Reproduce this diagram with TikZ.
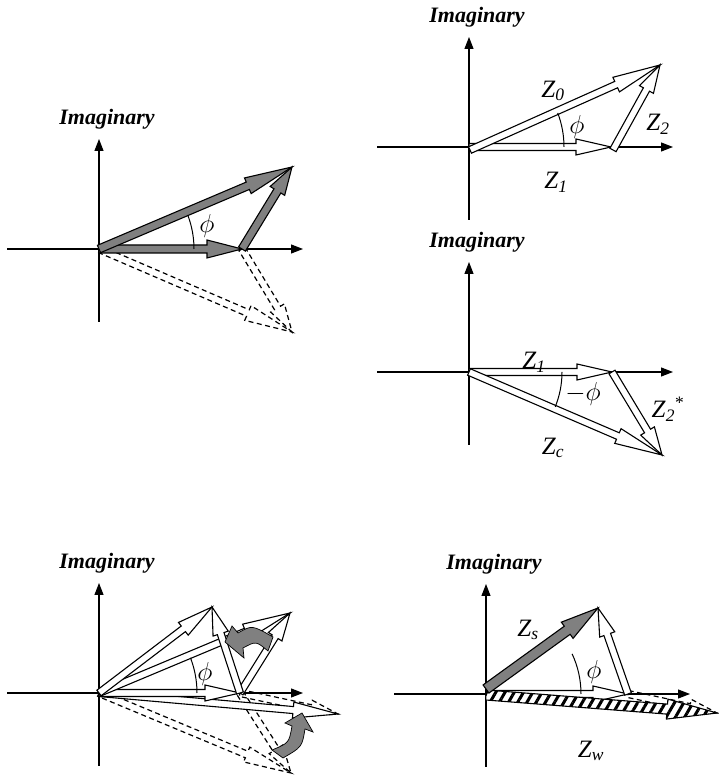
\documentclass[tikz,border=0pt]{standalone}
\usepackage{fix-cm}
\usepackage{fontspec}
\setmainfont{Liberation Serif}
\usetikzlibrary{calc,arrows.meta,patterns.meta}
\definecolor{arrgray}{gray}{0.5}

\tikzset{
  axis/.style={line width=1.1pt,-{Triangle[length=12pt,width=9pt]}},
  hollow/.style={draw,line width=1.1pt,fill=white,line join=miter},
  grayarr/.style={draw,line width=1.1pt,fill=arrgray},
  dasharr/.style={draw,line width=1.2pt,dash pattern=on 5pt off 3.5pt},
  hatcharr/.style={draw,line width=1.1pt,preaction={fill=white},
    pattern={Lines[angle=60,distance=8pt,line width=3pt]}},
  turnarr/.style={draw,line width=0.7pt,fill=arrgray},
  angarc/.style={line width=1pt},
  imag/.style={font=\fontsize{22}{24}\selectfont\bfseries\itshape},
  lbl/.style={font=\fontsize{25}{27}\selectfont,inner sep=1pt},
  phl/.style={font=\fontsize{26}{28}\selectfont,inner sep=1pt},
}

% block arrow: [style]{from}{to}{shaft half width}{head half width}{head length}
\newcommand{\blockarrow}[6][hollow]{%
  \path[#1] let \p1=($(#3)-(#2)$), \n1={atan2(\y1,\x1)}, \n2={veclen(\x1,\y1)} in
    ($(#2)+(\n1+90:#4pt)$) -- ($(#2)+(\n1:\n2-#6pt)+(\n1+90:#4pt)$)
    -- ($(#2)+(\n1:\n2-#6pt)+(\n1+90:#5pt)$) -- (#3)
    -- ($(#2)+(\n1:\n2-#6pt)+(\n1-90:#5pt)$) -- ($(#2)+(\n1:\n2-#6pt)+(\n1-90:#4pt)$)
    -- ($(#2)+(\n1-90:#4pt)$) -- cycle;}

% complex plane: {origin name}{x}{y}
\newcommand{\cplane}[3]{%
  \coordinate (#1) at (#2,#3);
  \coordinate (#1l) at ($(#1)+(-92,0)$);
  \coordinate (#1r) at ($(#1)+(204,0)$);
  \coordinate (#1b) at ($(#1)+(0,-73)$);
  \coordinate (#1t) at ($(#1)+(0,110)$);
  \draw[axis] (#1l) -- (#1r);
  \draw[axis] (#1b) -- (#1t);
  \node[imag] (#1lab) at ($(#1t)+(8,20)$) {Imaginary};}

\newcommand{\zlab}[1]{\textit{Z}\textsubscript{\textit{#1}}}

\begin{document}
\begin{tikzpicture}[x=1pt,y=1pt]
\useasboundingbox (0,0) rectangle (718,783);

% top left: Z0 = Z1 + Z2 with its mirror image
\cplane{oA}{99}{534}
\coordinate (z1A) at (242,534);
\coordinate (z0A) at (292,616);
\coordinate (z0Am) at (292,451);
\blockarrow[dasharr]{oA}{z0Am}{3.5}{8}{48}
\blockarrow[dasharr]{z1A}{z0Am}{3.5}{8}{28}
\blockarrow[grayarr]{oA}{z1A}{4}{9}{35}
\blockarrow[grayarr]{oA}{z0A}{4}{8.5}{48}
\blockarrow[grayarr]{z1A}{z0A}{4}{8.5}{28}
\draw[angarc] ($(oA)+(95,0)$) arc[start angle=0,end angle=21,radius=95];
\node[phl] (phA) at (207,557) {$\phi$};

% top right: Z0
\cplane{oB}{469}{636}
\coordinate (z1B) at (611,636);
\coordinate (z0B) at (660,718);
\coordinate (s0B) at (470,633);
\coordinate (s2B) at (613,633);
\blockarrow{oB}{z1B}{3.5}{8}{35}
\blockarrow{s0B}{z0B}{3.5}{8}{48}
\blockarrow{s2B}{z0B}{3.5}{8}{28}
\draw[angarc] ($(oB)+(95,0)$) arc[start angle=0,end angle=21,radius=95];
\node[phl] (phB) at (577,656) {$\phi$};
\node[lbl] (lz0B) at (553,692) {\zlab{0}};
\node[lbl] (lz2B) at (658,659) {\zlab{2}};
\node[lbl] (lz1B) at (556,601) {\zlab{1}};

% middle right: Zc
\cplane{oC}{469}{411}
\coordinate (z1C) at (612,411);
\coordinate (zcC) at (662,328);
\blockarrow{oC}{z1C}{3.5}{8}{35}
\blockarrow{oC}{zcC}{3.5}{8}{48}
\blockarrow{z1C}{zcC}{3.5}{8}{28}
\draw[angarc] ($(oC)+(93,0)$) arc[start angle=0,end angle=-22,radius=93];
\node[phl] (phC) at (583,389) {$-\phi$};
\node[lbl] (lz1C) at (534,421) {\zlab{1}};
\node[lbl] (lz2C) at (668,374) {\zlab{2}\textsuperscript{*}};
\node[lbl] (lzcC) at (553,335) {\zlab{c}};

% bottom left: turning Z2 and its mirror
\cplane{oD}{99}{90}
\coordinate (z1D) at (240,90);
\coordinate (z0D) at (290,170);
\coordinate (zsD) at (212,176);
\coordinate (zwD) at (338,69);
\coordinate (z0Dm) at (291,10);
\blockarrow[dasharr]{oD}{z0Dm}{3.5}{8}{48}
\blockarrow[dasharr]{z1D}{z0Dm}{3.5}{8}{28}
\blockarrow[dasharr]{z1D}{zwD}{3.5}{8}{28}
\blockarrow{oD}{zwD}{3.5}{8}{45}
\blockarrow{oD}{z1D}{3.5}{8}{35}
\blockarrow{oD}{z0D}{3.5}{8}{48}
\blockarrow{oD}{zsD}{3.5}{8}{36}
\blockarrow{z1D}{z0D}{3.5}{8}{28}
\blockarrow{z1D}{zsD}{3.5}{8}{28}
\draw[angarc] ($(oD)+(98,0)$) arc[start angle=0,end angle=21,radius=98];
\node[phl] (phD) at (205,109) {$\phi$};
\path[turnarr] (225,141) -- (232,157) -- (238,150) .. controls (252,158) .. (273,146)
  -- (268,132) .. controls (256,142) .. (243,135) -- (244,125) -- cycle;
\path[turnarr] (302,70) -- (313,51) -- (305,54) .. controls (302,36) .. (283,25)
  -- (272,33) .. controls (289,40) .. (292,57) -- (285,60) -- cycle;

% bottom right: Zs and Zw
\cplane{oE}{486}{89}
\coordinate (z1E) at (628,89);
\coordinate (zsE) at (598,175);
\coordinate (zwE) at (717,70);
\coordinate (ssE) at (486,94);
\coordinate (swE) at (486,88);
\blockarrow{oE}{z1E}{3.5}{8}{35}
\blockarrow[dasharr]{z1E}{zwE}{3.5}{8}{28}
\blockarrow[hatcharr]{swE}{zwE}{5}{10}{50}
\blockarrow{z1E}{zsE}{3.5}{8}{28}
\blockarrow[grayarr]{ssE}{zsE}{5}{10}{38}
\draw[angarc] ($(oE)+(95,0)$) arc[start angle=0,end angle=25,radius=95];
\node[phl] (phE) at (594,111) {$\phi$};
\node[lbl] (lzsE) at (528,153) {\zlab{s}};
\node[lbl] (lzwE) at (591,32) {\zlab{w}};
\end{tikzpicture}
\end{document}
